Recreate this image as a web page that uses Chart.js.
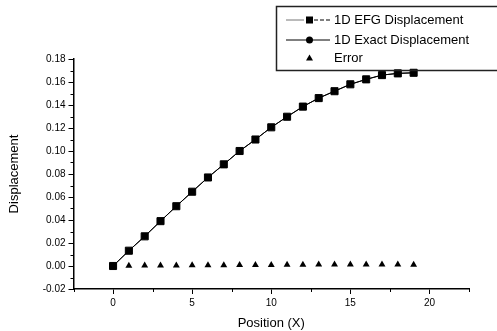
<!DOCTYPE html>
<html><head><meta charset="utf-8">
<script src="https://cdn.jsdelivr.net/npm/chart.js@4/dist/chart.umd.min.js"></script>
<style>html,body{margin:0;padding:0;background:#fff}#wrap{width:497px;height:331px}</style>
</head><body><div id="wrap"><canvas id="c" width="497" height="331"></canvas></div>
<script>
const positions = [0,1,2,3,4,5,6,7,8,9,10,11,12,13,14,15,16,17,18,19];
const efgDisp = [0,0.0133,0.0258,0.039,0.052,0.0646,0.077,0.0884,0.100,0.110,0.1206,0.1298,0.1386,0.146,0.152,0.158,0.1623,0.166,0.1675,0.168];
const exactDisp = [0,0.0133,0.0258,0.039,0.052,0.0646,0.077,0.0884,0.100,0.110,0.1206,0.1298,0.1386,0.146,0.152,0.158,0.1623,0.166,0.1675,0.168];
const errorVals = [0,0.0003,0.0004,0.0005,0.0005,0.0006,0.0006,0.0007,0.0008,0.0009,0.0009,0.0011,0.0011,0.0012,0.0012,0.0013,0.0012,0.0012,0.0012,0.0011];
const xTicks = [0,5,10,15,20];
const seriesNames = ['1D EFG Displacement','1D Exact Displacement','Error'];
const FONT = "'Liberation Sans', Arial, Helvetica, sans-serif";

const pts = (ys) => positions.map((x,i)=>({x:x,y:ys[i]}));

const minorTicks = {
  id:'minorTicks',
  afterDraw(chart){
    const ctx = chart.ctx, xs = chart.scales.x, ys = chart.scales.y;
    ctx.save(); ctx.strokeStyle='#000'; ctx.lineWidth=1;
    for (let v=-2.5; v<=22.5; v+=5){
      const px = Math.round(xs.getPixelForValue(v))+0.5;
      ctx.beginPath(); ctx.moveTo(px, ys.bottom); ctx.lineTo(px, ys.bottom+3); ctx.stroke();
    }
    for (let v=-0.01; v<=0.175; v+=0.02){
      const py = Math.round(ys.getPixelForValue(v))+0.5;
      ctx.beginPath(); ctx.moveTo(xs.left, py); ctx.lineTo(xs.left-3, py); ctx.stroke();
    }
    ctx.restore();
  }
};

const boxLegend = {
  id:'boxLegend',
  afterDraw(chart){
    const ctx = chart.ctx;
    ctx.save();
    ctx.strokeStyle='#222'; ctx.lineWidth=1.5;
    ctx.strokeRect(276.5, 6.5, 222, 64);
    const rows=[20,40,58];
    ctx.font = "13px " + FONT; ctx.fillStyle='#000'; ctx.textBaseline='middle'; ctx.textAlign='left';
    chart.data.datasets.forEach((ds,i)=>{
      const y = rows[i];
      ctx.strokeStyle='#000'; ctx.lineWidth=1;
      if (i===0){
        ctx.strokeStyle='#777'; ctx.beginPath(); ctx.moveTo(286,y); ctx.lineTo(304,y); ctx.stroke();
        ctx.strokeStyle='#000'; ctx.setLineDash([4,2]); ctx.beginPath(); ctx.moveTo(314,y); ctx.lineTo(330,y); ctx.stroke(); ctx.setLineDash([]);
        ctx.fillStyle='#000'; ctx.fillRect(306,y-3.5,7,7);
      } else if (i===1){
        ctx.beginPath(); ctx.moveTo(286,y); ctx.lineTo(330,y); ctx.stroke();
        ctx.fillStyle='#000'; ctx.beginPath(); ctx.arc(309.5,y,3.5,0,Math.PI*2); ctx.fill();
      } else {
        ctx.fillStyle='#000'; ctx.beginPath(); ctx.moveTo(309.5,y-3.5); ctx.lineTo(313,y+2.5); ctx.lineTo(306,y+2.5); ctx.closePath(); ctx.fill();
      }
      ctx.fillStyle='#000';
      ctx.fillText(ds.label, 334, y);
    });
    ctx.restore();
  }
};

new Chart(document.getElementById('c'), {
  type:'scatter',
  data:{ datasets:[
    {label:seriesNames[0], data:pts(efgDisp), showLine:true, borderColor:'#000', borderWidth:1, backgroundColor:'#000', pointStyle:'rect', pointRadius:5, order:1},
    {label:seriesNames[1], data:pts(exactDisp), showLine:true, borderColor:'#000', borderWidth:1, backgroundColor:'#000', pointStyle:'circle', pointRadius:2.5, order:2},
    {label:seriesNames[2], data:pts(errorVals), showLine:false, borderColor:'#000', borderWidth:0, backgroundColor:'#000', pointStyle:'triangle', pointRadius:4, order:0}
  ]},
  options:{
    responsive:false, animation:false, devicePixelRatio:1,
    layout:{padding:{top:59,right:28,left:0,bottom:0}},
    plugins:{legend:{display:false}, tooltip:{enabled:false}},
    scales:{
      x:{ type:'linear', min:-2.5, max:22.5,
        afterBuildTicks:(s)=>{ s.ticks = xTicks.map(v=>({value:v})); },
        afterFit:(s)=>{ s.height = 42; },
        grid:{display:true, drawOnChartArea:false, drawTicks:true, tickLength:5, color:'#000', lineWidth:1},
        border:{display:true, color:'#000', width:1.5},
        ticks:{color:'#000', font:{family:FONT, size:10}, padding:3, maxRotation:0},
        title:{display:true, text:'Position (X)', color:'#000', font:{family:FONT, size:13}, padding:{top:4,bottom:0}}
      },
      y:{ type:'linear', min:-0.02, max:0.18,
        afterFit:(s)=>{ s.width = 73.5; },
        grid:{display:true, drawOnChartArea:false, drawTicks:true, tickLength:5, color:'#000', lineWidth:1},
        border:{display:true, color:'#000', width:1.5},
        ticks:{stepSize:0.02, color:'#000', font:{family:FONT, size:10}, padding:3, callback:(v)=>{ const r = Math.round(v*100)/100; return (r===0?0:r).toFixed(2); }},
        title:{display:true, text:'Displacement', color:'#000', font:{family:FONT, size:13}, padding:{top:7,bottom:4}}
      }
    }
  },
  plugins:[minorTicks, boxLegend]
});
</script>
</body></html>
